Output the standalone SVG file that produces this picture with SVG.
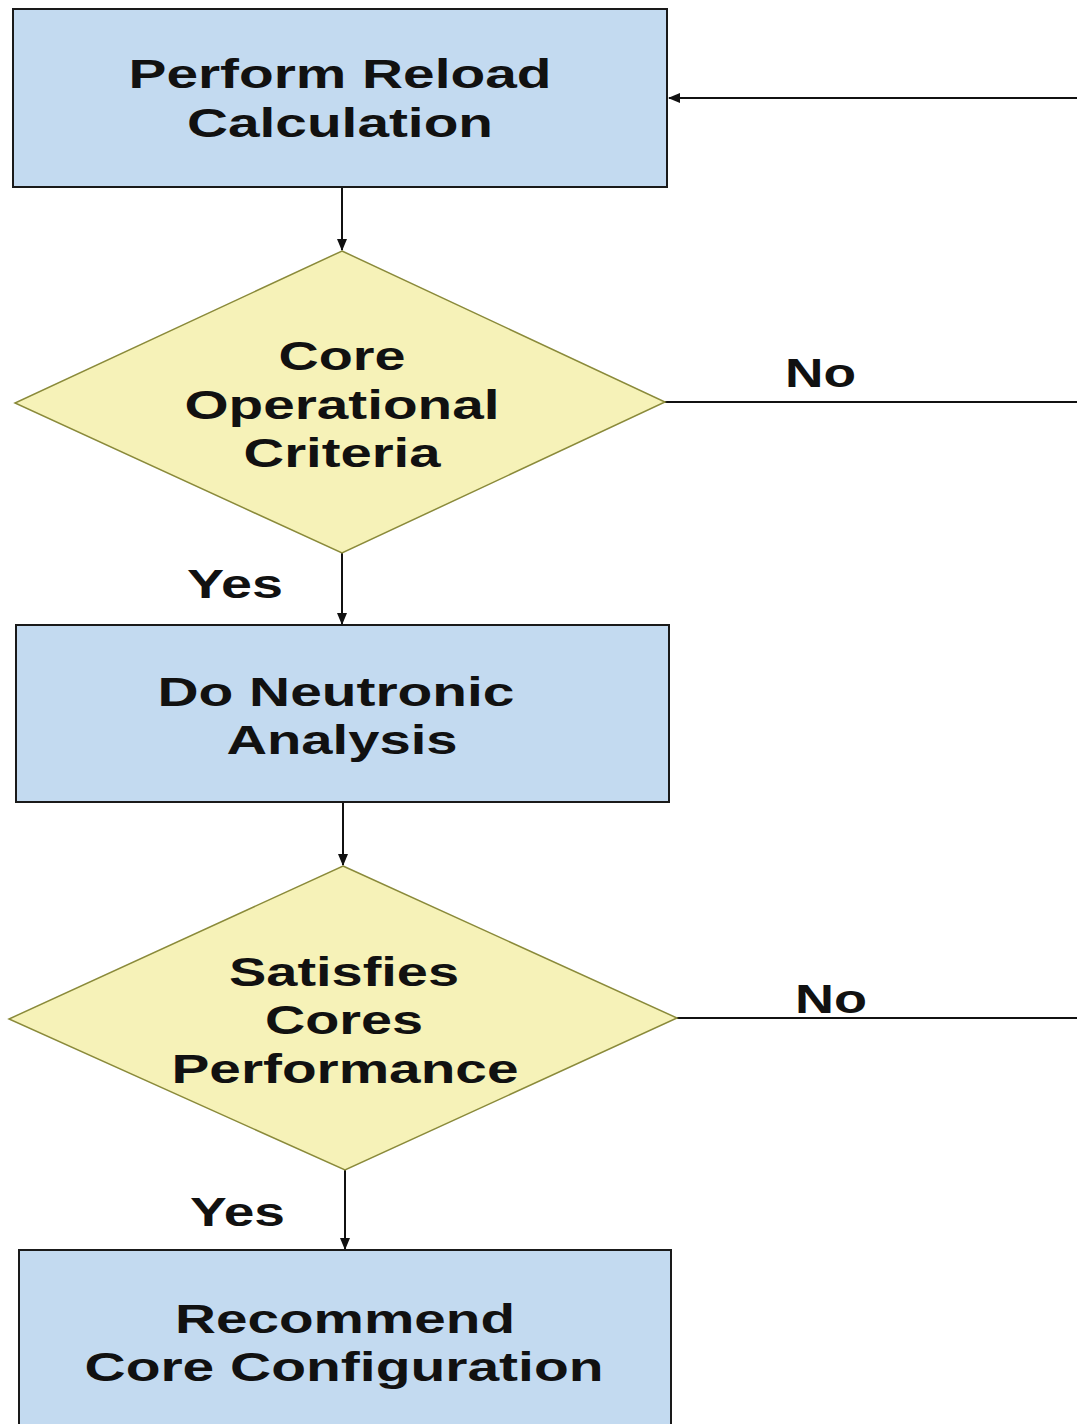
<svg xmlns="http://www.w3.org/2000/svg" width="1077" height="1424" viewBox="0 0 1077 1424">
<defs>
<style>
.box{fill:#c3daf0;stroke:#1a1a1a;stroke-width:2}
.dia{fill:#f6f2b8;stroke:#8a8a3a;stroke-width:1.5}
.t{font-family:"Liberation Sans",Arial,sans-serif;font-weight:bold;font-size:40px;fill:#111;text-anchor:middle}
.l{font-family:"Liberation Sans",Arial,sans-serif;font-weight:bold;font-size:40px;fill:#111}
.c{stroke:#111;stroke-width:2;fill:none}
</style>
<marker id="ah" markerWidth="12" markerHeight="10" refX="11" refY="5" orient="auto" markerUnits="userSpaceOnUse">
<path d="M0,0 L12,5 L0,10 Z" fill="#111"/>
</marker>
</defs>
<rect width="1077" height="1424" fill="#fff"/>
<g id="connectors">
<line class="c" x1="342" y1="187" x2="342" y2="250" marker-end="url(#ah)"/>
<line class="c" x1="342" y1="553" x2="342" y2="624" marker-end="url(#ah)"/>
<line class="c" x1="343" y1="802" x2="343" y2="865" marker-end="url(#ah)"/>
<line class="c" x1="345" y1="1170" x2="345" y2="1249" marker-end="url(#ah)"/>
<line class="c" x1="665" y1="402" x2="1077" y2="402"/>
<line class="c" x1="677" y1="1018" x2="1077" y2="1018"/>
<line class="c" x1="1077" y1="98" x2="669" y2="98" marker-end="url(#ah)"/>
<text class="l" x="785" y="387" textLength="71" lengthAdjust="spacingAndGlyphs">No</text>
<text class="l" x="795" y="1013" textLength="72" lengthAdjust="spacingAndGlyphs">No</text>
<text class="l" x="187" y="598" textLength="96" lengthAdjust="spacingAndGlyphs">Yes</text>
<text class="l" x="190" y="1226" textLength="95" lengthAdjust="spacingAndGlyphs">Yes</text>
</g>
<g id="node-reload">
<rect class="box" x="13" y="9" width="654" height="178"/>
<text class="t" x="340" y="88" textLength="423" lengthAdjust="spacingAndGlyphs">Perform Reload</text>
<text class="t" x="340" y="137" textLength="306" lengthAdjust="spacingAndGlyphs">Calculation</text>
</g>
<g id="node-criteria">
<polygon class="dia" points="342,251 665,402 342,553 15,403"/>
<text class="t" x="342" y="370" textLength="127" lengthAdjust="spacingAndGlyphs">Core</text>
<text class="t" x="342" y="419" textLength="315" lengthAdjust="spacingAndGlyphs">Operational</text>
<text class="t" x="342" y="467" textLength="197" lengthAdjust="spacingAndGlyphs">Criteria</text>
</g>
<g id="node-neutronic">
<rect class="box" x="16" y="625" width="653" height="177"/>
<text class="t" x="336" y="706" textLength="357" lengthAdjust="spacingAndGlyphs">Do Neutronic</text>
<text class="t" x="342" y="754" textLength="231" lengthAdjust="spacingAndGlyphs">Analysis</text>
</g>
<g id="node-performance">
<polygon class="dia" points="343,866 677,1018 345,1170 9,1019"/>
<text class="t" x="344" y="986" textLength="230" lengthAdjust="spacingAndGlyphs">Satisfies</text>
<text class="t" x="344" y="1034" textLength="158" lengthAdjust="spacingAndGlyphs">Cores</text>
<text class="t" x="345" y="1083" textLength="347" lengthAdjust="spacingAndGlyphs">Performance</text>
</g>
<g id="node-recommend">
<rect class="box" x="19" y="1250" width="652" height="180"/>
<text class="t" x="345" y="1333" textLength="340" lengthAdjust="spacingAndGlyphs">Recommend</text>
<text class="t" x="344" y="1381" textLength="519" lengthAdjust="spacingAndGlyphs">Core Configuration</text>
</g>
</svg>
